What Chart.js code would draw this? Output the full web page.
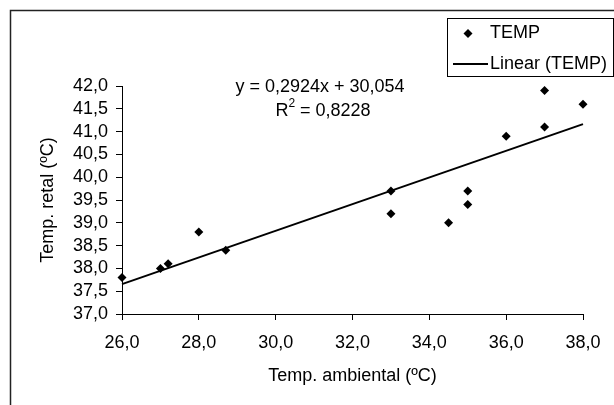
<!DOCTYPE html>
<html>
<head>
<meta charset="utf-8">
<script src="https://cdn.jsdelivr.net/npm/chart.js@4/dist/chart.umd.min.js"></script>
<style>
    html, body { margin: 0; padding: 0; background: #fff; }
</style>
</head>
<body>
<canvas id="chartTemp" width="614" height="405"></canvas>
<script>
const ambientTemps = [26.0, 27.0, 27.2, 28.0, 28.7, 33.0, 33.0, 34.5, 35.0, 35.0, 36.0, 37.0, 37.0, 38.0];
const rectalTemps = [37.8, 38.0, 38.1, 38.8, 38.4, 39.7, 39.2, 39.0, 39.7, 39.4, 40.9, 41.9, 41.1, 41.6];

// trend line ends (Excel linear fit shown on the chart)
const trendX = [26.0, 38.0];
const trendY = [37.656, 41.165];

const xTicks = [26, 28, 30, 32, 34, 36, 38];
const yTicks = [37.0, 37.5, 38.0, 38.5, 39.0, 39.5, 40.0, 40.5, 41.0, 41.5, 42.0];

const equationText = "y = 0,2924x + 30,054";
const r2Value = "0,8228";

const fontFamily = "'Liberation Sans', Arial, sans-serif";
const font = { family: fontFamily, size: 18 };
const fmt = (v) => Number(v).toFixed(1).replace(".", ",");

const frameAndLegend = {
    id: "frameAndLegend",
    beforeDraw: (chart) => {
        const ctx = chart.ctx;
        ctx.save();
        ctx.fillStyle = "#fff";
        ctx.fillRect(0, 0, chart.width, chart.height);
        ctx.restore();
    },
    afterDraw: (chart) => {
        const ctx = chart.ctx;
        ctx.save();

        // outer frame, cut off on the right and bottom
        ctx.strokeStyle = "#222";
        ctx.lineWidth = 1.5;
        ctx.strokeRect(10.5, 10.5, 800, 600);

        // equation + R²
        ctx.fillStyle = "#000";
        ctx.font = `18px ${fontFamily}`;
        ctx.textBaseline = "middle";
        ctx.textAlign = "center";
        ctx.fillText(equationText, 320, 87);

        const rest = " = " + r2Value;
        const wR = ctx.measureText("R").width;
        ctx.font = `12px ${fontFamily}`;
        const w2 = ctx.measureText("2").width;
        ctx.font = `18px ${fontFamily}`;
        const wRest = ctx.measureText(rest).width;
        let x0 = 323 - (wR + w2 + wRest) / 2;
        ctx.textAlign = "left";
        ctx.fillText("R", x0, 111);
        ctx.font = `12px ${fontFamily}`;
        ctx.fillText("2", x0 + wR, 104);
        ctx.font = `18px ${fontFamily}`;
        ctx.fillText(rest, x0 + wR + w2, 111);

        // legend
        const sets = chart.data.datasets;
        ctx.strokeStyle = "#000";
        ctx.lineWidth = 1;
        ctx.strokeRect(447.5, 18.5, 166, 58);

        ctx.beginPath();
        ctx.moveTo(468, 29);
        ctx.lineTo(472.5, 33.5);
        ctx.lineTo(468, 38);
        ctx.lineTo(463.5, 33.5);
        ctx.closePath();
        ctx.fill();
        ctx.fillText(sets[0].label, 490, 33);

        ctx.lineWidth = 2;
        ctx.beginPath();
        ctx.moveTo(453, 64);
        ctx.lineTo(488, 64);
        ctx.stroke();
        ctx.fillText(sets[1].label, 490, 64);

        ctx.restore();
    }
};

new Chart("chartTemp", {
    type: "scatter",
    data: {
        datasets: [{
            label: "TEMP",
            data: ambientTemps.map((x, i) => ({ x: x, y: rectalTemps[i] })),
            pointStyle: "rectRot",
            pointRadius: 4.5,
            backgroundColor: "#000",
            borderColor: "#000",
            borderWidth: 0,
            clip: false,
            order: 0
        }, {
            label: "Linear (TEMP)",
            type: "line",
            data: trendX.map((x, i) => ({ x: x, y: trendY[i] })),
            borderColor: "#000",
            borderWidth: 2,
            pointRadius: 0,
            fill: false,
            clip: false,
            order: 1
        }]
    },
    options: {
        responsive: false,
        animation: false,
        devicePixelRatio: 1,
        layout: { padding: { top: 86, right: 31, bottom: 0, left: 0 } },
        plugins: {
            legend: { display: false },
            tooltip: { enabled: false }
        },
        scales: {
            x: {
                type: "linear",
                min: 26,
                max: 38,
                afterBuildTicks: (s) => { s.ticks = xTicks.map((v) => ({ value: v })); },
                afterFit: (s) => { s.height = 91; },
                grid: { drawOnChartArea: false, tickLength: 6, color: "#000" },
                border: { color: "#000", width: 1 },
                ticks: { color: "#000", font: font, padding: 12, maxRotation: 0, autoSkip: false, callback: fmt },
                title: {
                    display: true,
                    text: "Temp. ambiental (ºC)",
                    color: "#000",
                    font: font,
                    padding: { top: 0, bottom: 18 }
                }
            },
            y: {
                type: "linear",
                min: 37,
                max: 42,
                afterBuildTicks: (s) => { s.ticks = yTicks.map((v) => ({ value: v })); },
                afterFit: (s) => { s.width = 122; },
                grid: { drawOnChartArea: false, tickLength: 6, color: "#000" },
                border: { color: "#000", width: 1 },
                ticks: { color: "#000", font: font, padding: 8, autoSkip: false, callback: fmt },
                title: {
                    display: true,
                    text: "Temp. retal (ºC)",
                    color: "#000",
                    font: font,
                    padding: { top: 37, bottom: 0 }
                }
            }
        }
    },
    plugins: [frameAndLegend]
});
</script>
</body>
</html>
